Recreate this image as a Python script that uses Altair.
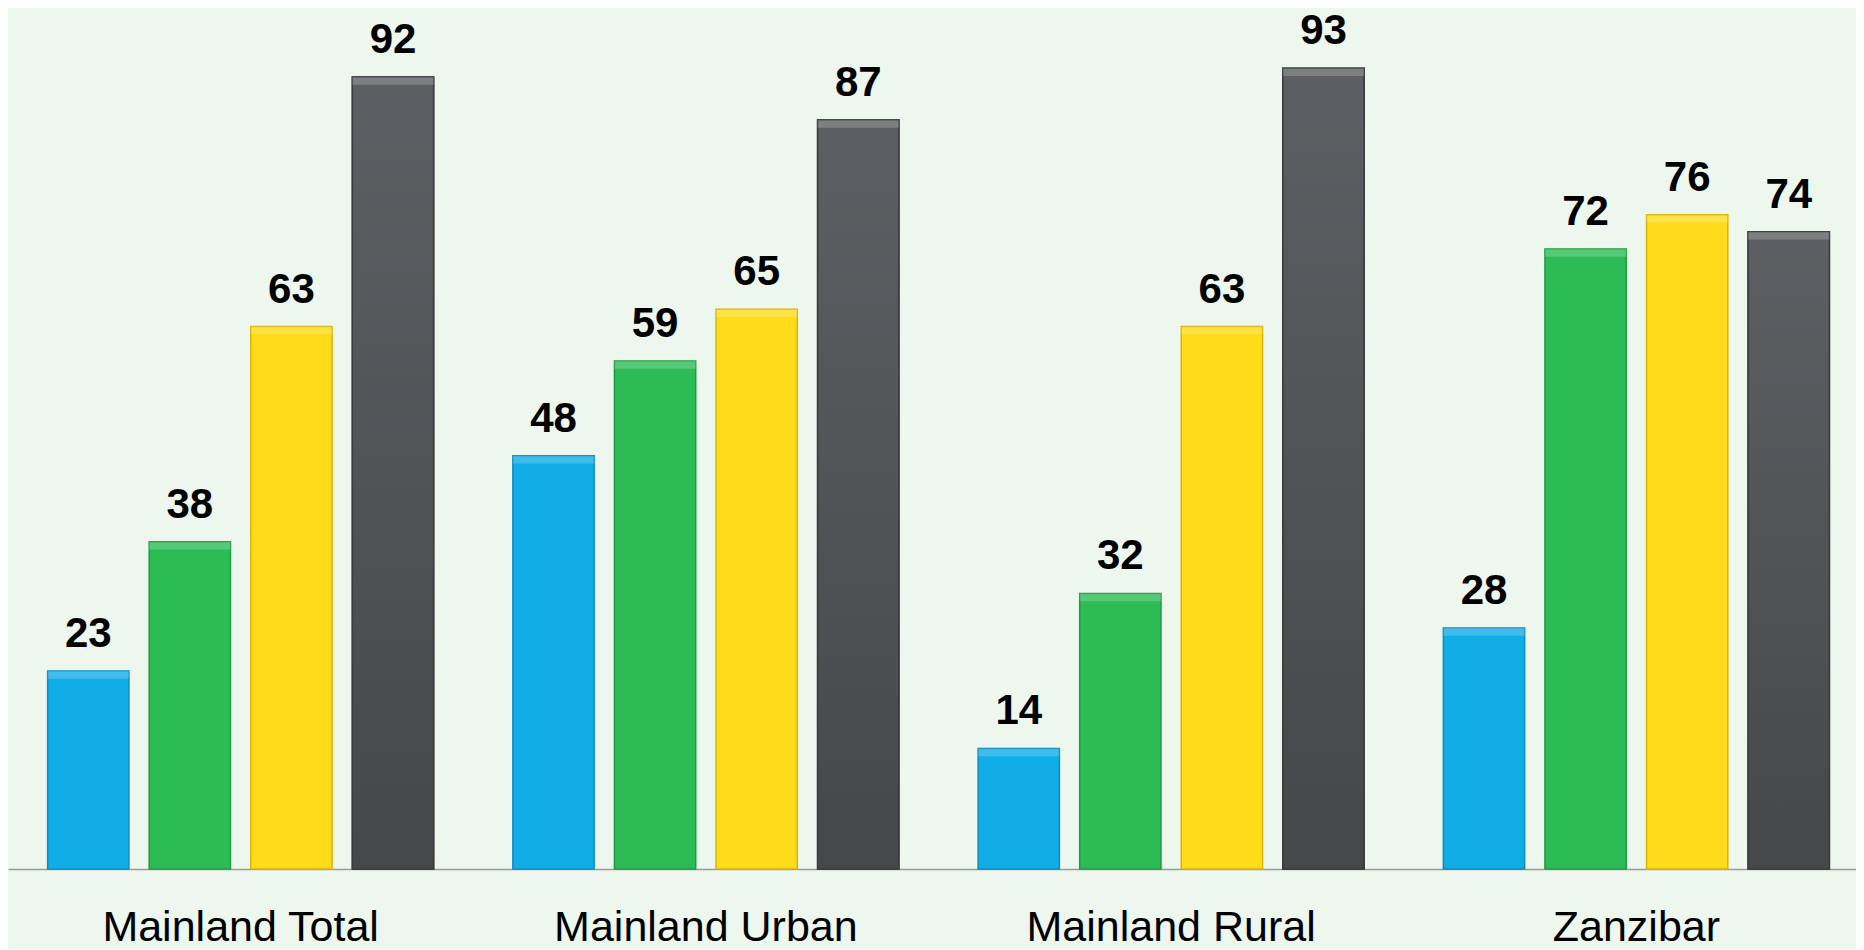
import altair as alt
import pandas as pd

groups = ["Mainland Total", "Mainland Urban", "Mainland Rural", "Zanzibar"]
series = ["Series 1", "Series 2", "Series 3", "Series 4"]
values_s1 = [23, 48, 14, 28]
values_s2 = [38, 59, 32, 72]
values_s3 = [63, 65, 63, 76]
values_s4 = [92, 87, 93, 74]
fill_colors = ["#10ADE6", "#2CBC55", "#FFDB1A", "#505154"]
edge_colors = ["#0A8CC0", "#1F9A42", "#D9B500", "#3A3B3D"]

rows = []
for s, vals in zip(series, [values_s1, values_s2, values_s3, values_s4]):
    for g, v in zip(groups, vals):
        rows.append({"group": g, "series": s, "value": v})
df = pd.DataFrame(rows)

base = alt.Chart(df).encode(
    x=alt.X(
        "group:N",
        sort=groups,
        scale=alt.Scale(paddingInner=0, paddingOuter=0, range=[0, 1861]),
        axis=alt.Axis(
            title=None,
            labelAngle=0,
            ticks=False,
            labelFontSize=43,
            labelFont="Liberation Sans",
            labelColor="#000000",
            labelPadding=37,
            labelLimit=0,
            domainColor="#9a9a9a",
            domainWidth=1.5,
            grid=False,
        ),
    ),
    xOffset=alt.XOffset(
        "series:N",
        sort=series,
        scale=alt.Scale(paddingInner=0.2, paddingOuter=0.39),
    ),
)

yenc = alt.Y("value:Q", scale=alt.Scale(domain=[0, 100]), axis=None)

bars = base.mark_bar(strokeWidth=1.5).encode(
    y=yenc,
    color=alt.Color("series:N", scale=alt.Scale(domain=series, range=fill_colors), legend=None),
    stroke=alt.Stroke("series:N", scale=alt.Scale(domain=series, range=edge_colors), legend=None),
)

# vertical shading for the dark series (lighter at top, darker at bottom)
gray_shade = base.transform_filter(alt.datum.series == "Series 4").mark_bar(
    strokeWidth=1.5,
    stroke="#3A3B3D",
    color=alt.Gradient(
        gradient="linear",
        stops=[
            alt.GradientStop(color="#5E5F62", offset=0),
            alt.GradientStop(color="#464749", offset=1),
        ],
        x1=0, x2=0, y1=0, y2=1,
    ),
).encode(y=yenc)

# light bevel strip along each bar's top edge
bevel = base.transform_calculate(top_edge="datum.value - 0.9").mark_bar(
    color="#FFFFFF", opacity=0.2
).encode(y=yenc, y2="top_edge:Q")

labels = base.mark_text(
    dy=-24,
    baseline="alphabetic",
    fontSize=42,
    fontWeight="bold",
    font="Liberation Sans",
    color="#000000",
).encode(
    y=yenc,
    text=alt.Text("value:Q"),
)

chart = (
    alt.layer(bars, gray_shade, bevel, labels)
    .properties(
        width=1848,
        height=861,
        background="#EDF7EE",
        padding={"left": 0, "top": 0, "right": 0, "bottom": 80},
        autosize=alt.AutoSizeParams(type="none"),
    )
    .configure_view(stroke=None)
)

chart.save("out.html", embed_options={"renderer": "svg", "actions": False})
